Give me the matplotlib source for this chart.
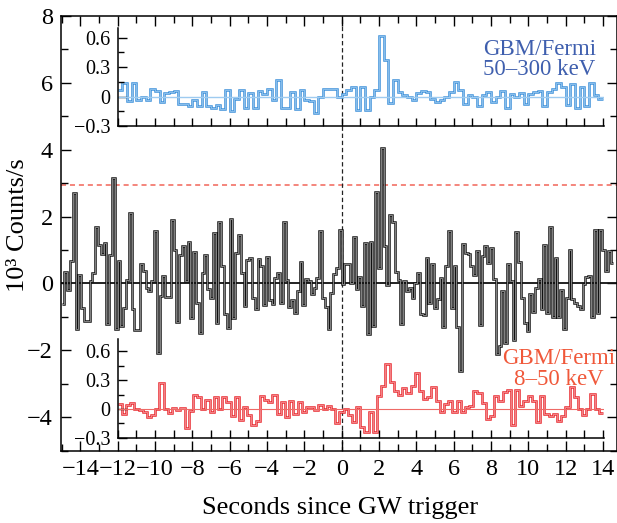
import numpy as np
import matplotlib
matplotlib.use('Agg')
import matplotlib.pyplot as plt
from matplotlib.ticker import MultipleLocator

plt.rcParams['font.family'] = ['Liberation Serif', 'DejaVu Serif']
plt.rcParams['axes.unicode_minus'] = True

# ---------------- data ----------------
main_t0 = -15.0
main_dt = 0.15
main_counts = [
    -0.62, 0.35, -0.2, 0.68, 2.7, -1.37, 0.25, -0.72, -1.12, -1.12,
    0.07, 0.3, 1.69, 1.16, 0.89, 1.21, -1.22, 0.86, 3.15, -1.35,
    0.68, -1.27, -0.72, 0.1, 2.1, -0.77, -1.4, -1.4, 0.58, 0.37,
    -0.13, -0.23, 0.07, 1.56, -2.09, -0.38, 0.22, -0.4, -0.4, 1.9,
    0.99, -1.14, 0.84, 1.11, 0.07, 1.24, -1.02, 0.94, -0.6, -1.47,
    0.32, 0.84, -0.18, -0.45, 1.5, -1.17, 1.83, 0.52, -0.92, -1.34,
    1.93, -1.02, 0.91, 1.44, 0.32, -0.67, 0.71, 0.76, -0.43, -0.77,
    0.74, 0.52, -0.64, 0.79, -0.5, -0.62, 0.15, 0.32, -0.6, 1.85,
    0.09, -0.7, -0.5, -0.87, -0.23, 0.64, -0.64, 0.12, 0.07, -0.33,
    -0.13, 0.15, 1.58, -0.43, -0.7, -1.37, -0.28, 0.27, 0.47, 1.6,
    -0.03, 0.58, 0.58, 0.0, 1.38, -0.18, 0.19, -0.67, 1.21, -1.5,
    1.24, -1.27, 2.73, 0.47, 4.06, 1.13, -0.05, 2.03, 1.83, 0.35,
    0.09, -1.22, 0.07, -0.23, -0.15, -0.43, 0.02, 0.32, -0.92, -0.94,
    0.76, -0.6, 0.57, -0.72, -0.48, 0.17, -1.3, 0.52, 1.58, -0.72,
    0.52, -1.3, -2.63, 1.18, 0.91, 0.88, 0.52, 0.25, 0.96, -1.24,
    0.81, 1.11, 0.62, 1.06, 0.12, -2.11, -1.87, -0.23, -1.77, 0.57,
    0.07, -1.7, 1.54, 0.64, -0.43, -1.17, -1.42, -0.33, -0.84, -0.15,
    0.12, -0.77, 1.14, -0.87, 1.68, -1.0, 0.76, -1.0, -0.2, -1.37,
    -0.43, 1.01, -0.48, -0.58, -0.67, -0.77, -0.03, 0.19, 0.22, -1.0,
    1.6, -0.87, 1.6, 1.01, 0.37, 0.98, 0.62,
]

blue_t0 = -12.0
blue_dt = 0.25
blue_counts = [
    0.07, 0.14, -0.04, 0.14, -0.03, 0.0, -0.03, 0.08, 0.06, -0.05,
    0.04, 0.05, 0.06, -0.07, -0.07, -0.1, -0.03, -0.1, 0.05, -0.1,
    -0.12, -0.08, -0.13, 0.07, -0.15, -0.02, 0.07, -0.12, 0.04, -0.12,
    0.06, 0.03, 0.08, -0.03, 0.17, -0.12, -0.12, 0.05, -0.13, 0.07,
    -0.03, -0.04, -0.17, 0.0, 0.08, 0.08, 0.08, 0.0, 0.03, 0.07,
    0.1, -0.14, 0.1, -0.14, 0.0, 0.07,
    0.62, 0.37, -0.06, 0.17, 0.05, 0.02, 0.0, -0.03, 0.04, 0.06,
    0.05, -0.02, -0.05, -0.03, 0.0, 0.05, 0.15, 0.07, -0.07, 0.02,
    0.0, -0.1, 0.02, 0.05, -0.05, 0.0, 0.06, -0.12, 0.03, 0.0,
    0.04, -0.07, 0.03, 0.05, 0.06, -0.1, 0.05, 0.08, 0.14, 0.1,
    -0.08, 0.13, -0.12, 0.1, -0.1, 0.14, 0.02, -0.02,
]

red_t0 = -12.0
red_dt = 0.2241
red_counts = [
    0.05, -0.05, 0.04, 0.06, 0.0, -0.01, -0.03, -0.08, -0.06, 0.0,
    0.27, 0.0, -0.04, 0.01, -0.01, 0.01, -0.2, -0.02,
    0.15, 0.12, 0.0, 0.09, -0.03, 0.12, 0.0, 0.12, 0.07, -0.07,
    0.12, -0.12, 0.02, -0.06, -0.17, -0.13, 0.14, 0.09, 0.07, 0.15,
    -0.05, 0.07, -0.08, 0.08, -0.05, 0.07, -0.03, 0.02, 0.02,
    -0.01, 0.04, 0.0, 0.03, 0.0, -0.15, -0.03, 0.0, -0.06, -0.14,
    0.02, -0.19, -0.24, -0.03, -0.24, 0.14, 0.24, 0.47, 0.28, 0.19,
    0.15, 0.22, 0.17, 0.24, 0.38, 0.19, 0.10, 0.12, 0.23, 0.08,
    -0.03, 0.05, 0.08, -0.03, 0.08, -0.03, 0.02, 0.03, 0.19, 0.17,
    0.06, -0.11, -0.07, 0.14, 0.08, 0.18, 0.2, -0.17, 0.2, 0.03,
    0.08, 0.14, 0.08, -0.14, 0.14, -0.05, -0.07, -0.05, -0.13, -0.07,
    0.02, 0.23, 0.12, 0.0, -0.06, 0.0, 0.16, 0.0, -0.04,
]

threshold = 2.95
trigger_time = 0.0
main_xticks = list(range(-14, 15, 2))
main_yticks = [-4, -2, 0, 2, 4, 6, 8]
inset_yticks = [-0.3, 0.0, 0.3, 0.6]
inset_yticklabels = ['\u22120.3', '0', '0.3', '0.6']
top_label = 'GBM/Fermi\n50\u2013300 keV'
bottom_label = 'GBM/Fermi\n8\u201350 keV'
ylabel_text = '10\u00b3 Counts/s'
xlabel_text = 'Seconds since GW trigger'

# ---------------- figure ----------------
fig = plt.figure(figsize=(6.17, 5.23), dpi=100)
ax = fig.add_axes([0.0989, 0.1382, 0.9003, 0.8317])
ax.set_xlim(-15.03, 14.72)
ax.set_ylim(-5, 8)

for s in ax.spines.values():
    s.set_linewidth(1.1)

ax.set_xticks(main_xticks)
ax.set_yticks(main_yticks)
ax.xaxis.set_minor_locator(MultipleLocator(1))
ax.yaxis.set_minor_locator(MultipleLocator(1))
ax.tick_params(which='both', direction='in', top=True, right=True, width=1.0)
ax.tick_params(which='major', length=7, labelsize=17.5, pad=6)
ax.tick_params(which='minor', length=5)

# threshold and trigger lines
ax.axhline(threshold, color='#f4857c', lw=1.4, dashes=(2.6, 2.0), zorder=1)
ax.axvline(trigger_time, color='#222222', lw=0.9, dashes=(3.5, 2.2), zorder=1)
ax.axhline(0, color='#111111', lw=1.3, zorder=2)

main_edges = main_t0 + main_dt * np.arange(len(main_counts) + 1)
ax.stairs(main_counts, main_edges, baseline=None, color='#111111', lw=1.8, zorder=3)
ax.stairs(main_counts, main_edges, baseline=None, color='#c4c4c4', lw=0.45, zorder=4)


def make_inset(y0, h, ylim):
    ia = ax.inset_axes([-12, y0, 26.07, h], transform=ax.transData)
    ia.patch.set_alpha(0)
    ia.set_xlim(-12, 14.07)
    ia.set_ylim(*ylim)
    ia.spines['top'].set_visible(False)
    ia.spines['right'].set_visible(False)
    for s in ('left', 'bottom'):
        ia.spines[s].set_linewidth(1.1)
    ia.xaxis.set_major_locator(MultipleLocator(1))
    ia.set_yticks(inset_yticks)
    ia.set_yticklabels(inset_yticklabels)
    ia.yaxis.set_minor_locator(MultipleLocator(0.15))
    ia.tick_params(axis='x', which='both', direction='in', length=5.5, width=1.0,
                   labelbottom=False)
    ia.tick_params(axis='y', which='major', direction='in', length=6.5, width=1.0,
                   labelsize=14.5, pad=5)
    ia.tick_params(axis='y', which='minor', direction='in', length=4.5, width=1.0)
    return ia


# top inset (50-300 keV)
axt = make_inset(4.70, 2.94, (-0.3, 0.70))
axt.axhline(0, color='#9ecbf0', lw=1.0)
blue_edges = blue_t0 + blue_dt * np.arange(len(blue_counts) + 1)
axt.stairs(blue_counts, blue_edges, baseline=None, color='#3a8fd9', lw=1.8)
axt.stairs(blue_counts, blue_edges, baseline=None, color='#a9d2f3', lw=0.5)

# bottom inset (8-50 keV)
axb = make_inset(-4.61, 2.95, (-0.3, 0.73))
axb.axhline(0, color='#ee6a66', lw=0.8)
red_edges = red_t0 + red_dt * np.arange(len(red_counts) + 1)
axb.stairs(red_counts, red_edges, baseline=None, color='#e8262c', lw=1.8)
axb.stairs(red_counts, red_edges, baseline=None, color='#f8a9ad', lw=0.5)

# labels
ax.text(10.6, 6.70, top_label, color='#3f5fae', fontsize=16.5, ha='center',
        va='center', linespacing=0.95, zorder=6)
ax.text(11.64, -2.56, bottom_label, color='#f0583a', fontsize=16.5, ha='center',
        va='center', linespacing=0.95, zorder=6)

fig.text(18 / 617, 1 - 225 / 523, ylabel_text, rotation=90, fontsize=19,
         ha='center', va='center')
fig.text(340 / 617, 1 - 508 / 523, xlabel_text, fontsize=19,
         ha='center', va='center')

fig.savefig('out.png', dpi=100)
